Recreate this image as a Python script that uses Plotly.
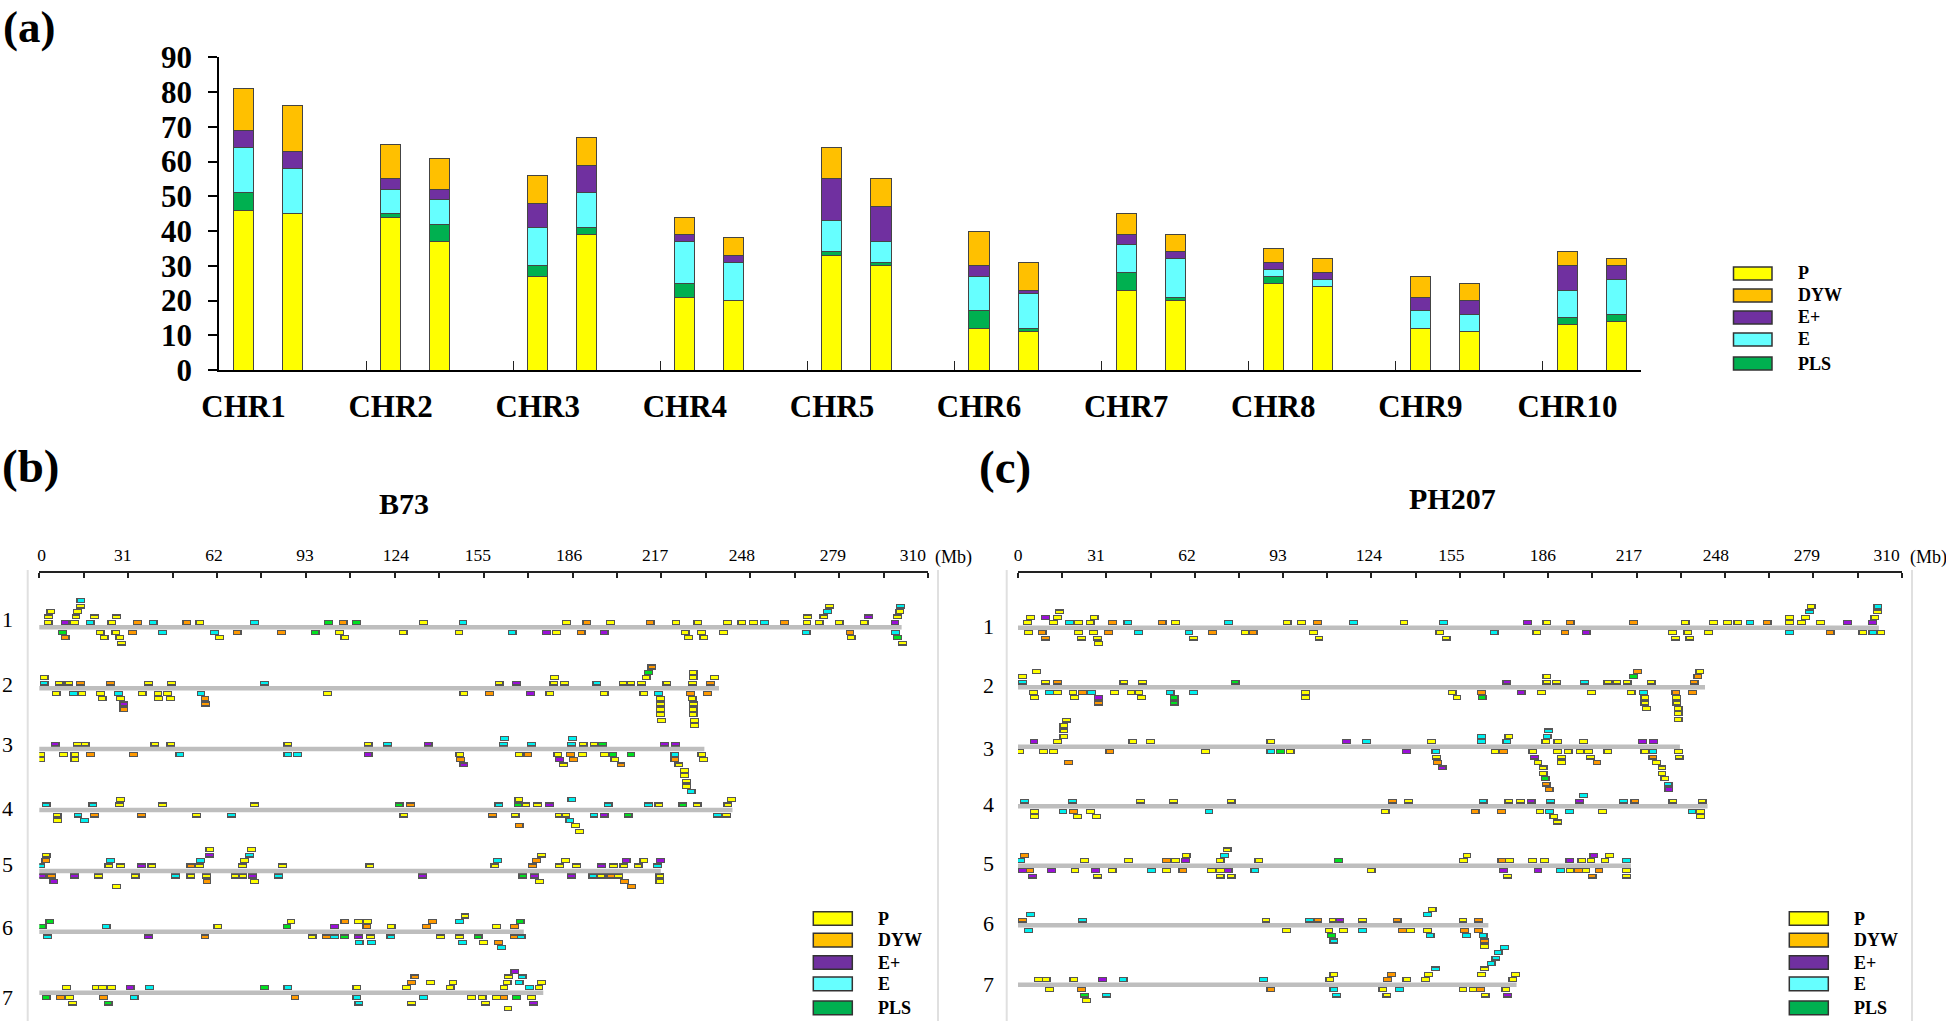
import plotly.graph_objects as go

P, DYW, EP, E, PLS = "P", "DYW", "E+", "E", "PLS"

# panel (a): counts per chromosome, B73 then PH207
CHR_NAMES = ["CHR1", "CHR2", "CHR3", "CHR4", "CHR5", "CHR6", "CHR7", "CHR8", "CHR9", "CHR10"]
A_P = [46, 45, 44, 37, 27, 39, 21, 20, 33, 30, 12, 11, 23, 20, 25, 24, 12, 11, 13, 14]
A_PLS = [5, 0, 1, 5, 3, 2, 4, 0, 1, 1, 5, 1, 5, 1, 2, 0, 0, 0, 2, 2]
A_E = [13, 13, 7, 7, 11, 10, 12, 11, 9, 6, 10, 10, 8, 11, 2, 2, 5, 5, 8, 10]
A_EP = [5, 5, 3, 3, 7, 8, 2, 2, 12, 10, 3, 1, 3, 2, 2, 2, 4, 4, 7, 4]
A_DYW = [12, 13, 10, 9, 8, 8, 5, 5, 9, 8, 10, 8, 6, 5, 4, 4, 6, 5, 4, 2]

# panels (b), (c): chromosome lengths in Mb
B73_LEN = [300.8, 237.1, 232, 241.8, 216.8, 169, 175.8]
PH207_LEN = [302, 241, 232.2, 241.9, 215, 165, 174.9]

AXIS_LABELS = ["0", "31", "62", "93", "124", "155", "186", "217", "248", "279", "310"]
B73_LABEL_POS = [0.85, 29.1, 60.9, 92.7, 124.4, 153, 184.8, 214.8, 245.1, 276.8, 304.7]
PH207_LABEL_POS = [0, 27.4, 59.3, 91.2, 123.1, 152, 184.1, 214.3, 244.8, 276.7, 304.7]
AXIS_TICKS = [15.5 * i for i in range(21)]

# genes: stacking level (+ above the chromosome, - below) -> (family, Mb)
B73_CHR1 = {
    1: [(P, 3.1), (EP, 9), (P, 12.2), (E, 17.7), (P, 25.3), (DYW, 34.2), (E, 39.7), (DYW, 51.5), (P, 56), (E, 75),
        (PLS, 100.8), (DYW, 106), (PLS, 110.6), (P, 134), (E, 147.8), (P, 183.9), (DYW, 191), (P, 199.2), (DYW, 213.1),
        (P, 222.1), (P, 229.7), (P, 240.1), (P, 245.1), (P, 249.2), (E, 253), (DYW, 259.9), (P, 267.8), (P, 272),
        (P, 279), (P, 287.7), (EP, 298.5)],
    2: [(P, 3.3), (P, 12.8), (P, 19.3), (P, 27), (P, 268), (P, 273.7), (EP, 289.3), (P, 299.4)],
    3: [(P, 4), (P, 13.4), (E, 275), (P, 300.2)],
    4: [(P, 14.4), (P, 275.7), (E, 300.4)],
    5: [(E, 14.5)],
    -1: [(PLS, 8), (P, 21.2), (P, 26.7), (DYW, 32.6), (E, 42.9), (E, 61.2), (DYW, 69), (DYW, 84.4), (PLS, 96.2),
         (P, 104.7), (P, 126.9), (P, 146.4), (E, 164.9), (EP, 177), (P, 180.4), (DYW, 189), (EP, 197), (P, 225.3),
         (P, 230.9), (P, 238.6), (E, 267.5), (DYW, 282.8), (E, 298.7)],
    -2: [(DYW, 9), (P, 22.6), (P, 28.1), (P, 62.8), (P, 106.6), (P, 226.5), (P, 231.8), (P, 283.2), (PLS, 299.3)],
    -3: [(P, 28.6), (P, 301.1)],
}
B73_CHR2 = {
    1: [(E, 1.7), (P, 6.9), (P, 10.3), (DYW, 14.4), (DYW, 24.9), (P, 38), (P, 46.2), (E, 78.6), (P, 160.4), (EP, 166.4),
        (P, 179.5), (P, 183.2), (E, 194.5), (P, 203.6), (P, 206.4), (P, 210.1), (P, 218.9), (P, 227.8), (DYW, 234.2)],
    2: [(P, 1.7), (P, 179.7), (P, 211.7), (P, 228.1), (P, 235.6)],
    3: [(PLS, 212.5), (P, 228.1)],
    4: [(DYW, 213.7)],
    -1: [(P, 5.9), (E, 12), (P, 14.9), (P, 21.4), (E, 27.6), (P, 35.9), (P, 41.4), (P, 44.8), (E, 56.4), (P, 100.5),
         (P, 148.1), (DYW, 157.1), (EP, 171.4), (P, 178.1), (P, 197), (P, 210.9), (E, 215.9), (DYW, 227.2), (DYW, 233)],
    -2: [(P, 21.9), (P, 28.3), (P, 41.5), (P, 45.7), (DYW, 57.8), (P, 216.7), (P, 227.7)],
    -3: [(EP, 29.5), (DYW, 58), (P, 216.7), (P, 228.2)],
    -4: [(DYW, 29.5), (P, 216.6), (P, 228.1)],
    -5: [(P, 216.7), (P, 228.1)],
    -6: [(P, 217), (P, 228.5)],
    -7: [(P, 228.6)],
}
B73_CHR3 = {
    1: [(EP, 5.5), (P, 13.4), (P, 16), (P, 40.3), (P, 45.9), (P, 86.7), (P, 114.7), (E, 121.5), (EP, 135.6), (E, 162),
        (E, 171.7), (E, 185.7), (P, 189.7), (P, 193.5), (PLS, 196.5), (EP, 218.1), (EP, 222)],
    2: [(E, 162.3), (E, 186)],
    -1: [(P, 0.5), (P, 8.5), (P, 12.4), (DYW, 17.9), (DYW, 32.9), (E, 49), (E, 86.7), (E, 90), (EP, 114.7), (P, 146.7),
         (P, 167.4), (DYW, 170.4), (P, 180.9), (DYW, 185.3), (P, 189.5), (P, 197.2), (PLS, 200.1), (PLS, 206.4),
         (E, 221.7), (P, 231.1)],
    -2: [(P, 0.5), (P, 12.4), (DYW, 146.9), (EP, 181.5), (DYW, 186.3), (P, 200.8), (DYW, 221.7), (P, 231.6)],
    -3: [(EP, 148.1), (P, 182.8), (DYW, 202.9), (P, 223.1)],
    -4: [(P, 225)],
    -5: [(P, 225)],
    -6: [(P, 225.8)],
    -7: [(P, 225.8)],
    -8: [(E, 227.4)],
}
B73_CHR4 = {
    1: [(E, 2.4), (E, 18.7), (P, 27.9), (P, 42.9), (P, 75), (PLS, 125.5), (DYW, 129.5), (E, 160.3), (PLS, 167),
        (P, 169.6), (P, 173.8), (EP, 177.9), (E, 198.4), (E, 212.5), (P, 216.1), (PLS, 224.5), (P, 229.5), (P, 240.2)],
    2: [(P, 28.4), (P, 167.3), (E, 185.8), (P, 241.4)],
    -1: [(P, 6.2), (E, 13.5), (DYW, 19.2), (DYW, 35.6), (P, 54.8), (E, 67.1), (P, 127.2), (DYW, 158), (P, 166),
         (P, 181.3), (P, 183.7), (E, 193.5), (EP, 197), (PLS, 205.4), (E, 236.5), (P, 239.8)],
    -2: [(P, 6.3), (E, 15.7), (E, 185.1)],
    -3: [(DYW, 167.4), (P, 187)],
    -4: [(P, 188.5)],
}
B73_CHR5 = {
    1: [(E, 0.5), (P, 24.3), (P, 28.4), (EP, 35.6), (P, 39.3), (DYW, 52.9), (P, 55.9), (P, 70.9), (P, 84.8), (P, 115.3),
        (P, 158.9), (DYW, 172.1), (P, 181.5), (P, 187.4), (EP, 196.1), (P, 200.3), (P, 203.9), (P, 208.9), (E, 215.6)],
    2: [(DYW, 2.3), (E, 24.9), (E, 56.3), (P, 71.6), (E, 159.9), (DYW, 173.4), (P, 183.5), (EP, 204.7), (P, 210.9),
        (EP, 216.7)],
    3: [(P, 2.4), (EP, 59.3), (E, 73.3), (P, 175.1)],
    4: [(P, 59.5), (P, 74.1)],
    -1: [(EP, 1), (DYW, 4.3), (EP, 12.2), (P, 20.7), (P, 33.4), (E, 47.6), (P, 52.9), (P, 58.4), (P, 68.3), (P, 71),
         (EP, 74.3), (E, 83.4), (EP, 133.7), (PLS, 168.7), (EP, 172.8), (EP, 185.7), (E, 193.1), (P, 196), (DYW, 199.4),
         (P, 202), (P, 216.5)],
    -2: [(EP, 5.1), (DYW, 58.5), (P, 75), (P, 174.5), (DYW, 204.2), (P, 216.5)],
    -3: [(P, 27), (DYW, 206.6)],
}
B73_CHR6 = {
    1: [(PLS, 1), (E, 23.3), (P, 62.3), (PLS, 86.4), (EP, 102.9), (DYW, 114.3), (P, 122.7), (DYW, 135.1), (P, 159.4),
        (DYW, 165.8)],
    2: [(PLS, 3.7), (P, 87.8), (DYW, 106.6), (P, 111.4), (P, 114.5), (DYW, 137.2), (E, 146.6), (PLS, 167.7)],
    3: [(P, 148.5)],
    -1: [(E, 2.9), (EP, 38.1), (DYW, 57.8), (P, 95.2), (DYW, 100.2), (E, 103), (PLS, 106.4), (EP, 111.3), (P, 115.6),
         (E, 122.6), (P, 140), (P, 146.5), (PLS, 153.1), (DYW, 165.7), (E, 168.1)],
    -2: [(E, 111.6), (E, 115.8), (E, 147.6), (P, 155), (DYW, 160.1)],
    -3: [(E, 161.3)],
}
B73_CHR7 = {
    1: [(P, 9.5), (P, 19.8), (P, 22.1), (P, 25.1), (EP, 31.7), (E, 38.4), (PLS, 78.6), (E, 86.7), (P, 110.8), (P, 128.1),
        (P, 143.3), (P, 162.1), (E, 171), (P, 174.3)],
    2: [(DYW, 129.9), (P, 136.5), (P, 144.3), (P, 163.2), (E, 167.4), (P, 175.1)],
    3: [(DYW, 131), (P, 163.6), (E, 168.4)],
    4: [(EP, 165.9)],
    -1: [(PLS, 2.4), (DYW, 7.3), (P, 10.5), (DYW, 22.3), (E, 33.1), (DYW, 89.2), (E, 110.8), (E, 134.1), (P, 150.7),
         (P, 154.5), (P, 159.4), (DYW, 162.1), (PLS, 166.4), (P, 171.6)],
    -2: [(P, 11.5), (PLS, 24), (E, 111.5), (P, 129.9), (P, 155.7), (EP, 172.3)],
    -3: [(P, 163.5)],
}

PH207_CHR1 = {
    1: [(P, 3.4), (P, 12.5), (E, 18), (P, 21.3), (P, 25.3), (DYW, 33.2), (E, 38.5), (DYW, 50.6), (P, 55.2), (E, 73.9),
        (P, 94.4), (P, 99.5), (DYW, 105), (E, 117.7), (P, 135.4), (E, 149.3), (EP, 178.7), (P, 185.5), (DYW, 193.7),
        (DYW, 216), (P, 234), (P, 243.9), (P, 248.9), (P, 252.5), (E, 256.8), (DYW, 262.8), (P, 270.7), (P, 274.8),
        (P, 281.6), (EP, 290.9), (EP, 299.7)],
    2: [(P, 4.3), (EP, 9.6), (P, 13.9), (P, 26.7), (P, 270.7), (P, 276.2), (P, 300.6)],
    3: [(P, 14.6), (E, 277.6), (P, 301.5)],
    4: [(P, 278.2), (E, 301.6)],
    -1: [(P, 3.6), (DYW, 8.5), (P, 21.3), (P, 26.5), (DYW, 31.8), (E, 42.3), (E, 60), (DYW, 68.3), (P, 79.7),
         (DYW, 82.5), (P, 103.7), (P, 148), (E, 167), (P, 182), (DYW, 191.9), (EP, 199.3), (P, 229.6), (P, 235),
         (P, 242.3), (E, 270.7), (DYW, 284.9), (P, 296.4), (E, 299.9), (P, 302.7)],
    -2: [(DYW, 9.6), (P, 22.3), (P, 27.9), (P, 61.6), (P, 105.6), (P, 150.2), (P, 230.6), (P, 235.7)],
    -3: [(P, 28.2)],
}
PH207_CHR2 = {
    1: [(E, 1.5), (P, 9.6), (DYW, 13.8), (P, 37.1), (P, 43.7), (PLS, 76.2), (EP, 171.5), (P, 185.5), (P, 188.9),
        (E, 198.8), (P, 206.9), (P, 210.1), (P, 213.7), (P, 222.1), (DYW, 237.2)],
    2: [(P, 1.5), (P, 185.5), (PLS, 216), (DYW, 238.5)],
    3: [(P, 6.5), (DYW, 217.4), (P, 239.2)],
    -1: [(P, 5.4), (E, 11), (P, 13.9), (P, 19.3), (DYW, 22.7), (E, 25.7), (P, 33.8), (P, 39.8), (P, 42.4), (E, 53.4),
         (E, 61.5), (P, 100.9), (P, 152.3), (DYW, 162.6), (EP, 176.5), (P, 183.6), (P, 201.2), (P, 215.1), (E, 219.4),
         (DYW, 230.8), (DYW, 236.6)],
    -2: [(P, 5.7), (P, 19.9), (EP, 28.2), (P, 43.3), (PLS, 54.8), (P, 100.9), (P, 154), (PLS, 162.8), (P, 219.9),
         (P, 231)],
    -3: [(DYW, 28.2), (PLS, 54.8), (P, 219.9), (P, 231.1)],
    -4: [(P, 220.4), (P, 231.6)],
    -5: [(P, 231.6)],
    -6: [(P, 231.6)],
}
PH207_CHR3 = {
    1: [(EP, 5.6), (P, 13.8), (P, 40.3), (P, 46.5), (P, 88.7), (EP, 115.3), (E, 122.3), (P, 145), (E, 162.6), (E, 171.5),
        (P, 185.2), (P, 189.4), (P, 198.4), (EP, 219), (EP, 223)],
    2: [(P, 16.1), (E, 162.6), (P, 172.2), (E, 185.6)],
    3: [(P, 16.1), (E, 186.1)],
    4: [(P, 16.1)],
    5: [(P, 17)],
    -1: [(P, 0.6), (P, 8.9), (P, 12.5), (DYW, 32.2), (P, 65.7), (E, 88.7), (PLS, 92), (P, 95.5), (EP, 136.3), (E, 146.6),
         (P, 167.4), (DYW, 170.3), (P, 180.6), (P, 189.3), (P, 193), (P, 197.2), (P, 200.2), (P, 206.9), (P, 219.9),
         (E, 222.7), (P, 231.7)],
    -2: [(P, 146.8), (EP, 181.1), (P, 190.7), (P, 200.9), (DYW, 222.7), (P, 231.9)],
    -3: [(DYW, 17.7), (DYW, 147.1), (P, 182.4), (P, 190.7), (DYW, 203.1), (P, 223.9)],
    -4: [(EP, 148.8), (P, 184.2), (P, 225.9)],
    -5: [(P, 184.2), (P, 225.9)],
    -6: [(PLS, 184.9), (P, 226.9)],
    -7: [(DYW, 185.3), (E, 228.1)],
    -8: [(DYW, 186.3), (EP, 228.3)],
}
PH207_CHR4 = {
    1: [(E, 2.3), (E, 19.1), (P, 42.9), (P, 54.5), (P, 74.8), (DYW, 131.3), (P, 137), (E, 163.2), (P, 172.2), (P, 176.2),
        (EP, 180), (E, 186.8), (EP, 197), (E, 212.4), (DYW, 216.4), (P, 229.7), (P, 240)],
    2: [(E, 198.4)],
    -1: [(P, 5.8), (E, 15.8), (DYW, 19.4), (P, 25.5), (E, 67), (P, 128.8), (DYW, 160.4), (DYW, 169.6), (P, 183.1),
         (E, 186.5), (E, 193.5), (P, 205), (E, 236.5), (P, 239.5)],
    -2: [(P, 5.8), (P, 20.8), (P, 27.6), (P, 188), (P, 239.5)],
    -3: [(P, 189.3)],
}
PH207_CHR5 = {
    1: [(E, 0.9), (P, 23.3), (P, 38.7), (DYW, 52.1), (P, 55.2), (EP, 58.8), (P, 70.9), (P, 84.5), (PLS, 112.5),
        (P, 156.3), (DYW, 169.7), (P, 172.4), (P, 180.4), (P, 184.7), (EP, 193.6), (P, 197.8), (P, 201), (P, 205.9),
        (E, 213.5)],
    2: [(DYW, 2.3), (P, 59), (E, 72.5), (P, 157.5), (EP, 202), (P, 207.5)],
    3: [(P, 73.4)],
    -1: [(EP, 1.5), (DYW, 4.2), (EP, 11.7), (P, 20), (EP, 27.1), (P, 33), (E, 46.8), (P, 52.1), (DYW, 57.8), (P, 67.8),
         (P, 71), (EP, 73.7), (E, 83.1), (P, 123.9), (EP, 170.3), (EP, 182.4), (E, 190.3), (P, 193.7), (DYW, 196.6),
         (P, 199.2), (DYW, 203.8), (P, 213.5)],
    -2: [(EP, 5.1), (P, 27.8), (P, 70.9), (P, 74.8), (P, 171.8), (DYW, 201.4), (P, 213.5)],
}
PH207_CHR6 = {
    1: [(DYW, 1.6), (E, 22.7), (P, 87), (E, 102.2), (DYW, 105.2), (P, 110.5), (EP, 112.9), (P, 120.9), (DYW, 133),
        (P, 156.1), (DYW, 161.5)],
    2: [(E, 4.4), (E, 143.6)],
    3: [(P, 145.3)],
    -1: [(E, 3.7), (P, 94.2), (P, 109.1), (P, 114.2), (E, 120.8), (DYW, 134.9), (P, 137.7), (P, 143.6), (DYW, 156.6),
         (DYW, 161.5)],
    -2: [(PLS, 110), (E, 144.6), (E, 157.3), (E, 163.2)],
    -3: [(E, 110.8), (DYW, 163.7)],
    -4: [(P, 163.7)],
}
PH207_CHR7 = {
    1: [(P, 7.2), (P, 9.9), (P, 19.6), (EP, 29.7), (E, 36.9), (E, 86.2), (P, 109.4), (DYW, 129.7), (P, 136.4), (P, 143),
        (P, 173.6)],
    2: [(P, 110.8), (DYW, 131.1), (P, 144), (P, 162.6), (P, 174.5)],
    3: [(E, 146.4), (P, 163.7)],
    4: [(E, 166)],
    5: [(E, 167.6)],
    6: [(E, 168.4)],
    7: [(E, 170.7)],
    -1: [(P, 11.1), (DYW, 22.3), (DYW, 88.7), (E, 110.8), (P, 128), (E, 133.9), (P, 156.1), (P, 159.8), (DYW, 162.2),
         (P, 171.1)],
    -2: [(PLS, 23.3), (E, 31.1), (E, 111.7), (P, 129.4), (P, 163.9), (EP, 171.8)],
    -3: [(P, 24)],
}

B73_CHROMS = [B73_CHR1, B73_CHR2, B73_CHR3, B73_CHR4, B73_CHR5, B73_CHR6, B73_CHR7]
PH207_CHROMS = [PH207_CHR1, PH207_CHR2, PH207_CHR3, PH207_CHR4, PH207_CHR5, PH207_CHR6, PH207_CHR7]

SERIF = "Liberation Serif"
W, H = 1946, 1021

LEGEND_COLORS = {P: "#FFFF00", DYW: "#FFC000", EP: "#7030A0", E: "#66FFFF", PLS: "#00B050"}
MARK_COLORS = {P: "#FFFF00", DYW: "#FF9900", EP: "#9A10D8", E: "#00F0F0", PLS: "#00E020"}
LEGEND_ORDER = [P, DYW, EP, E, PLS]


def px_x(v):
    return v / W


def px_y(v):
    return 1 - v / H


fig = go.Figure()

# panel (a)
slots = [3 * i + j for i in range(10) for j in (0, 1)]
for name, vals in [(P, A_P), (PLS, A_PLS), (E, A_E), (EP, A_EP), (DYW, A_DYW)]:
    fig.add_bar(x=slots, y=vals, name=name, width=0.41, showlegend=False,
                marker=dict(color=LEGEND_COLORS[name], line=dict(color="#444444", width=1)))

# panels (b), (c)
MARK_W = 2.7
MARK_H = 0.72
panels = [
    (B73_CHROMS, B73_LEN, "x2", "y2", 11.32),
    (PH207_CHROMS, PH207_LEN, "x3", "y3", 11.06),
]
for chroms, lengths, xa, ya, row_step in panels:
    for row, length in enumerate(lengths):
        fig.add_scatter(x=[-0.2, length], y=[-row * row_step] * 2, mode="lines", xaxis=xa, yaxis=ya,
                        showlegend=False, line=dict(color="#BEBEBE", width=4.5))
    for fam in LEGEND_ORDER:
        xs, bases = [], []
        for row, chrom in enumerate(chroms):
            for level, genes in chrom.items():
                sign = 1 if level > 0 else -1
                centre = sign * (abs(level) - 0.06) - row * row_step
                for g, mb in genes:
                    if g == fam:
                        xs.append(mb)
                        bases.append(centre - MARK_H / 2)
        fig.add_bar(x=xs, y=[MARK_H] * len(xs), base=bases, width=MARK_W, xaxis=xa, yaxis=ya, showlegend=False,
                    cliponaxis=False, marker=dict(color=MARK_COLORS[fam], line=dict(color="#555555", width=1.2)))

shapes = []
annotations = []


def add_text(text, x, y, size, bold=False, anchor="center"):
    annotations.append(dict(text="<b>%s</b>" % text if bold else text, x=px_x(x), y=px_y(y), xref="paper", yref="paper",
                            showarrow=False, xanchor=anchor, yanchor="middle",
                            font=dict(family=SERIF, size=size, color="black")))


def add_legend(x0, x1, x_text, rows):
    for fam, (top, bottom) in zip(LEGEND_ORDER, rows):
        shapes.append(dict(type="rect", xref="paper", yref="paper", x0=px_x(x0), x1=px_x(x1), y0=px_y(bottom),
                           y1=px_y(top), fillcolor=LEGEND_COLORS[fam], line=dict(color="#333333", width=1.5)))
        add_text(fam, x_text, (top + bottom) / 2, 18, bold=True, anchor="left")


add_legend(1733.5, 1772, 1796, [(267, 280), (289, 302), (311, 324), (333, 346), (357, 370)])
lower_rows = [(911.7, 925.3), (933.3, 947), (955.7, 969.3), (977, 990.7), (1001, 1014.7)]
add_legend(813.3, 852.3, 876, lower_rows)
add_legend(1789.3, 1828.3, 1852.3, lower_rows)

add_text("(a)", 1, 27, 45, bold=True, anchor="left")
add_text("(b)", 0, 466, 47, bold=True, anchor="left")
add_text("(c)", 977, 467, 47, bold=True, anchor="left")
add_text("B73", 404, 503, 30, bold=True)
add_text("PH207", 1452, 498, 30, bold=True)
add_text("(Mb)", 933, 557, 18, anchor="left")
add_text("(Mb)", 1908, 557, 18, anchor="left")

for i, y in enumerate([619, 684, 744, 808, 864, 927, 997]):
    add_text(str(i + 1), 7, y, 22)
for i, y in enumerate([626, 685, 748, 804, 863, 923, 984]):
    add_text(str(i + 1), 988, y, 22)

for x in [27.7, 938, 1006.7, 1912]:
    shapes.append(dict(type="line", xref="paper", yref="paper", x0=px_x(x), x1=px_x(x), y0=px_y(570), y1=0,
                       line=dict(color="#E0E0E0", width=2)))


def map_axis(domain, label_pos):
    return dict(domain=[px_x(domain[0]), px_x(domain[1])], range=[0, 310], side="top", showgrid=False, zeroline=False,
                showline=True, linecolor="#222222", linewidth=2, ticks="", tickmode="array", tickvals=label_pos,
                ticktext=AXIS_LABELS, ticklabelstandoff=3, tickfont=dict(family=SERIF, size=17.5, color="black"),
                minor=dict(tickmode="array", tickvals=AXIS_TICKS, ticks="inside", ticklen=5, tickwidth=1.5,
                           tickcolor="#222222", showgrid=False))


def row_axis(first_line_px, level_px):
    # one unit of this axis is one stacking level
    return dict(domain=[px_y(H), px_y(572.7)], range=[-(H - first_line_px) / level_px, (first_line_px - 572.7) / level_px],
                visible=False, showgrid=False, zeroline=False)


fig.update_layout(
    template="none", width=W, height=H, margin=dict(l=0, r=0, t=0, b=0, autoexpand=False), paper_bgcolor="white",
    plot_bgcolor="white", barmode="stack", showlegend=False, shapes=shapes, annotations=annotations,
    xaxis=dict(domain=[px_x(219), px_x(1641)], range=[-0.5, 28.5], anchor="y", showgrid=False, zeroline=False,
               showline=True, linecolor="black", linewidth=2, ticks="", tickmode="array",
               tickvals=[3 * i for i in range(10)], ticktext=CHR_NAMES, ticklabelstandoff=8,
               tickfont=dict(family=SERIF, size=31, color="black", weight="bold"),
               minor=dict(tickmode="array", tickvals=[3 * i + 2.5 for i in range(9)], ticks="inside", ticklen=9,
                          tickwidth=1.2, tickcolor="#222222", showgrid=False)),
    yaxis=dict(domain=[px_y(370), px_y(57.3)], range=[0, 90], anchor="x", dtick=10, showgrid=False, zeroline=False,
               showline=True, linecolor="black", linewidth=1.5, ticks="outside", ticklen=9, tickwidth=1.5, tickcolor="black",
               ticklabelstandoff=10, tickfont=dict(family=SERIF, size=31, color="black", weight="bold")),
    xaxis2=map_axis((39.3, 928), B73_LABEL_POS),
    xaxis3=map_axis((1018, 1901.7), PH207_LABEL_POS),
    yaxis2=row_axis(627.3, 5.38),
    yaxis3=row_axis(627.7, 5.38),
)
fig.update_layout(xaxis2_anchor="y2", yaxis2_anchor="x2", xaxis3_anchor="y3", yaxis3_anchor="x3")

fig.write_html("out.html", config={"displayModeBar": False}, post_script="document.body.style.margin='0';")
